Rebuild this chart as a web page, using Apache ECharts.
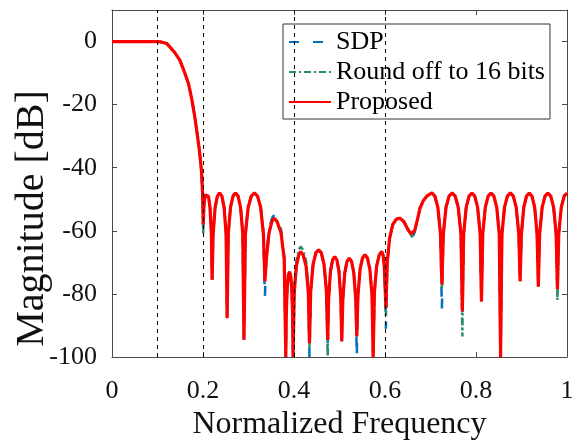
<!DOCTYPE html>
<html>
<head>
<meta charset="utf-8">
<script src="https://cdn.jsdelivr.net/npm/echarts@6/dist/echarts.min.js"></script>
<style>html,body{margin:0;padding:0;background:#fff}#c{width:572px;height:441px}</style>
</head>
<body>
<div id="c"></div>
<script>
// Normalized frequency samples (shared by the three responses)
const freq = [
  0, 0.02, 0.04, 0.06, 0.08, 0.1, 0.11, 0.12, 0.127, 0.138, 0.149, 0.158, 0.168, 0.175, 0.182, 0.187, 0.192, 0.195, 0.197, 0.199, 0.2005,
  0.2018, 0.2035, 0.2058, 0.2085, 0.212, 0.2154, 0.2184, 0.22,
  0.2223, 0.2266, 0.2316, 0.2365, 0.2415, 0.2464, 0.2507, 0.253,
  0.2556, 0.2604, 0.266, 0.2715, 0.2771, 0.2826, 0.2874, 0.29,
  0.2932, 0.2992, 0.3061, 0.313, 0.3199, 0.3268, 0.3328, 0.336,
  0.3392, 0.3452, 0.3516, 0.3565, 0.3625, 0.3715, 0.3785, 0.382,
  0.3831, 0.3852, 0.3876, 0.39, 0.3924, 0.3948, 0.3969, 0.398,
  0.4005, 0.4052, 0.4106, 0.4145, 0.42, 0.4265, 0.4315, 0.434,
  0.4368, 0.442, 0.448, 0.454, 0.46, 0.466, 0.4712, 0.474,
  0.4762, 0.4802, 0.4849, 0.4895, 0.4942, 0.4988, 0.5028, 0.505,
  0.5073, 0.5116, 0.5166, 0.5215, 0.5265, 0.5314, 0.5357, 0.538,
  0.5405, 0.5452, 0.5506, 0.556, 0.5614, 0.5668, 0.5715, 0.574,
  0.5767, 0.5816, 0.5873, 0.593, 0.5957, 0.5984, 0.6007, 0.602,
  0.605, 0.61, 0.617, 0.625, 0.633, 0.641, 0.65, 0.657, 0.66, 0.665, 0.672, 0.677, 0.684, 0.692, 0.703,
  0.7096, 0.7162, 0.7219, 0.725,
  0.7282, 0.734, 0.7408, 0.7475, 0.7543, 0.761, 0.7669, 0.77,
  0.7729, 0.7784, 0.7847, 0.791, 0.7973, 0.8036, 0.8091, 0.812,
  0.8149, 0.8204, 0.8267, 0.833, 0.8393, 0.8456, 0.8511, 0.854,
  0.857, 0.8626, 0.869, 0.8755, 0.882, 0.8884, 0.894, 0.897,
  0.8998, 0.905, 0.911, 0.917, 0.923, 0.929, 0.9342, 0.937,
  0.9399, 0.9454, 0.9517, 0.958, 0.9643, 0.9706, 0.9761, 0.979,
  0.9819, 0.9874, 0.9937, 1
];

// Magnitude [dB] — SDP
const sdp = [
  0, 0, 0, 0, 0, 0, -0.2, -0.6, -1.7, -3.5, -5.9, -9.2, -13.3, -18, -23.9, -29, -34.4, -38.5, -41.8, -48, -58,
  -53, -50, -48.6, -48, -49, -52.6, -61, -75.5,
  -61, -52.6, -49, -48, -49, -52.6, -61, -87.7,
  -61, -52.6, -49, -48, -49, -52.6, -61, -94.5,
  -61, -52.6, -49, -48, -49, -52.6, -61, -81,
  -68, -59.6, -56, -55, -56, -59.6, -68, -100,
  -86, -77.6, -74, -73, -74, -77.6, -86, -100,
  -79.6, -71.2, -67.6, -66.6, -67.6, -71.2, -79.6, -100,
  -79, -70.6, -67, -66, -67, -70.6, -79, -96,
  -81.2, -72.8, -69.2, -68.2, -69.2, -72.8, -81.2, -95,
  -81.7, -73.3, -69.7, -68.7, -69.7, -73.3, -81.7, -100,
  -80.6, -72.2, -68.6, -67.6, -68.6, -72.2, -80.6, -100,
  -79.6, -71.2, -67.6, -66.6, -67.6, -71.2, -79.6, -91,
  -70, -62.5, -58, -56.3, -56, -57, -59.5, -61.3, -62.3, -60.5, -56, -52.8, -50.5, -49, -48,
  -49, -52.6, -61, -85,
  -61, -52.6, -49, -48, -49, -52.6, -61, -86,
  -61, -52.6, -49, -48, -49, -52.6, -61, -82.4,
  -61, -52.6, -49, -48, -49, -52.6, -61, -100,
  -61, -52.6, -49, -48, -49, -52.6, -61, -76,
  -61, -52.6, -49, -48, -49, -52.6, -61, -77.7,
  -61, -52.6, -49, -48, -49, -52.6, -61, -79,
  -61, -52.6, -49, -48
];

// Magnitude [dB] — Round off to 16 bits
const round16 = [
  0, 0, 0, 0, 0, 0, -0.2, -0.6, -1.7, -3.5, -5.9, -9.2, -13.3, -18, -23.9, -29, -34.4, -38.5, -41.8, -48, -61,
  -53, -50, -48.6, -48, -49, -52.6, -61, -75.5,
  -61, -52.6, -49, -48, -49, -52.6, -61, -87.7,
  -61, -52.6, -49, -48, -49, -52.6, -61, -94.5,
  -61, -52.6, -49, -48, -49, -52.6, -61, -76,
  -69, -60.6, -57, -56, -57, -60.6, -69, -100,
  -86, -77.6, -74, -73, -74, -77.6, -86, -100,
  -78, -69.6, -66, -65, -66, -69.6, -78, -97,
  -79, -70.6, -67, -66, -67, -70.6, -79, -100,
  -81.2, -72.8, -69.2, -68.2, -69.2, -72.8, -81.2, -95,
  -81.7, -73.3, -69.7, -68.7, -69.7, -73.3, -81.7, -93.5,
  -80.6, -72.2, -68.6, -67.6, -68.6, -72.2, -80.6, -100,
  -79.6, -71.2, -67.6, -66.6, -67.6, -71.2, -79.6, -87,
  -70, -62.5, -58, -56.3, -56, -57, -59.5, -61.2, -62, -60.3, -56, -52.8, -50.5, -49, -48,
  -49, -52.6, -61, -78,
  -61, -52.6, -49, -48, -49, -52.6, -61, -93.5,
  -61, -52.6, -49, -48, -49, -52.6, -61, -82.4,
  -61, -52.6, -49, -48, -49, -52.6, -61, -100,
  -61, -52.6, -49, -48, -49, -52.6, -61, -76,
  -61, -52.6, -49, -48, -49, -52.6, -61, -77.7,
  -61, -52.6, -49, -48, -49, -52.6, -61, -82,
  -61, -52.6, -49, -48
];

// Magnitude [dB] — Proposed
const proposed = [
  0, 0, 0, 0, 0, 0, -0.2, -0.6, -1.7, -3.5, -5.9, -9.2, -13.3, -18, -23.9, -29, -34.4, -38.5, -41.8, -48, -58,
  -53, -50, -48.6, -48, -49, -52.6, -61, -75.5,
  -61, -52.6, -49, -48, -49, -52.6, -61, -87.7,
  -61, -52.6, -49, -48, -49, -52.6, -61, -94.5,
  -61, -52.6, -49, -48, -49, -52.6, -61, -76,
  -69, -60.6, -57, -56, -57, -60.6, -69, -100,
  -86, -77.6, -74, -73, -74, -77.6, -86, -100,
  -79.6, -71.2, -67.6, -66.6, -67.6, -71.2, -79.6, -95.6,
  -79, -70.6, -67, -66, -67, -70.6, -79, -94.5,
  -81.2, -72.8, -69.2, -68.2, -69.2, -72.8, -81.2, -95,
  -81.7, -73.3, -69.7, -68.7, -69.7, -73.3, -81.7, -93.5,
  -80.6, -72.2, -68.6, -67.6, -68.6, -72.2, -80.6, -100,
  -79.6, -71.2, -67.6, -66.6, -67.6, -71.2, -79.6, -84.5,
  -70, -62.5, -58, -56.3, -56, -57, -59.5, -61, -61.3, -60, -56, -52.8, -50.5, -49, -48,
  -49, -52.6, -61, -77,
  -61, -52.6, -49, -48, -49, -52.6, -61, -85.6,
  -61, -52.6, -49, -48, -49, -52.6, -61, -82.4,
  -61, -52.6, -49, -48, -49, -52.6, -61, -100,
  -61, -52.6, -49, -48, -49, -52.6, -61, -76,
  -61, -52.6, -49, -48, -49, -52.6, -61, -77.7,
  -61, -52.6, -49, -48, -49, -52.6, -61, -78.5,
  -61, -52.6, -49, -48
];

const seriesNames = ['SDP', 'Round off to 16 bits', 'Proposed'];
const bandEdges = [0.1, 0.2, 0.4, 0.6];
const xTicks = [0, 0.2, 0.4, 0.6, 0.8, 1];
const yTicks = [-100, -80, -60, -40, -20, 0];

const pairs = (ys) => freq.map((f, i) => [f, ys[i]]);
const FONT = 'Liberation Serif';
const axisCol = '#4a4a4a';

const chart = echarts.init(document.getElementById('c'), null, {renderer: 'canvas'});
const baseX = {
  type: 'value', min: 0, max: 1, interval: 0.2,
  splitLine: {show: false},
  axisLine: {show: true, onZero: false, lineStyle: {color: axisCol, width: 1}},
  axisTick: {show: true, inside: true, length: 5, lineStyle: {color: axisCol}, customValues: xTicks}
};
const baseY = {
  type: 'value', min: -100, max: 10, interval: 20,
  splitLine: {show: false},
  axisLine: {show: true, onZero: false, lineStyle: {color: axisCol, width: 1}},
  axisTick: {show: true, inside: true, length: 5, lineStyle: {color: axisCol}, customValues: yTicks}
};

chart.setOption({
  animation: false,
  backgroundColor: '#fff',
  grid: {left: 112, right: 5, top: 10, bottom: 84, containLabel: false, outerBoundsMode: 'none'},
  legend: {
    orient: 'vertical', left: 283, top: 24,
    data: seriesNames,
    itemWidth: 42, itemHeight: 14, itemGap: 4,
    padding: [5, 5, 4, 5],
    backgroundColor: '#fff', borderColor: '#333', borderWidth: 1,
    itemStyle: {opacity: 0},
    textStyle: {fontFamily: FONT, fontSize: 26, color: '#000'}
  },
  xAxis: [
    Object.assign({}, baseX, {
      position: 'bottom',
      axisLabel: {show: true, fontFamily: FONT, fontSize: 26, color: '#111', margin: 21, customValues: xTicks},
      name: 'Normalized Frequency', nameLocation: 'middle', nameGap: 51,
      nameTextStyle: {fontFamily: FONT, fontSize: 32, color: '#111'}
    }),
    Object.assign({}, baseX, {position: 'top', axisLabel: {show: false}})
  ],
  yAxis: [
    Object.assign({}, baseY, {
      position: 'left',
      axisLabel: {show: true, fontFamily: FONT, fontSize: 26, color: '#111', margin: 15, customValues: yTicks},
      name: 'Magnitude [dB]', nameLocation: 'middle', nameGap: 60, nameMoveOverlap: false,
      nameTextStyle: {fontFamily: FONT, fontSize: 40, color: '#111', padding: [0, 70, 0, 0]}
    }),
    Object.assign({}, baseY, {position: 'right', axisLabel: {show: false}})
  ],
  series: [
    {
      name: seriesNames[0], type: 'line', data: pairs(sdp),
      showSymbol: false, symbol: 'none', z: 2,
      lineStyle: {color: '#0072BD', width: 2.5, type: [10, 14]},
      itemStyle: {color: '#0072BD'},
      markLine: {
        silent: true, symbol: ['none', 'none'], label: {show: false},
        lineStyle: {color: '#000', width: 1, type: [4, 4]},
        data: bandEdges.map(v => ({xAxis: v}))
      }
    },
    {
      name: seriesNames[1], type: 'line', data: pairs(round16),
      showSymbol: false, symbol: 'none', z: 3,
      lineStyle: {color: '#2E8B6A', width: 2.5, type: [7, 3, 2, 3]},
      itemStyle: {color: '#2E8B6A'}
    },
    {
      name: seriesNames[2], type: 'line', data: pairs(proposed),
      showSymbol: false, symbol: 'none', z: 4,
      lineStyle: {color: '#FF0000', width: 3.2},
      itemStyle: {color: '#FF0000'}
    }
  ]
});
</script>
</body>
</html>
